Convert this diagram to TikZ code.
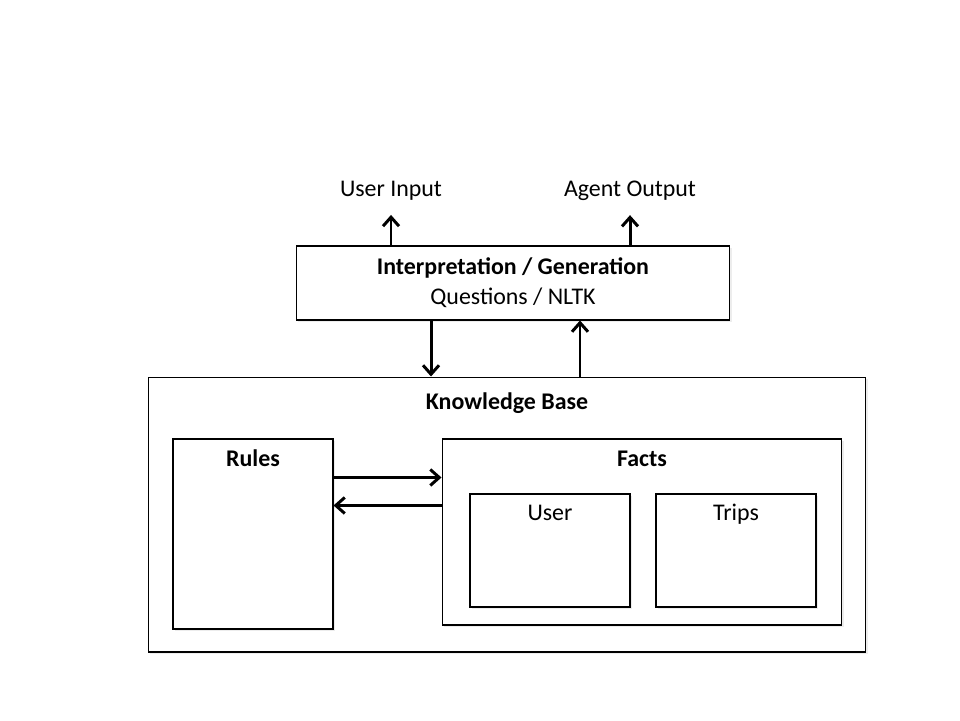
\documentclass[tikz,border=0pt]{standalone}
\usepackage{fontspec}
\setmainfont{Carlito}
\usetikzlibrary{arrows.meta,shadows,positioning}

\begin{document}
\begin{tikzpicture}[
    x=0.02cm,y=-0.02cm,
    font=\fontsize{13.6}{17}\selectfont,
    box/.style={draw=black,line width=0.6pt,fill=white,inner sep=0pt,
        drop shadow={shadow xshift=1pt,shadow yshift=-1.2pt,fill=black!14}},
    title/.style={font=\fontsize{13.6}{17}\selectfont\bfseries,inner sep=0pt},
    lab/.style={inner sep=0pt},
    arr/.style={line width=1.7pt,-{Straight Barb[length=1.8mm,width=3.2mm,line width=1.7pt]}}
]
\useasboundingbox (0,0) rectangle (960,720);

% top box
\node[box,minimum width=8.68cm,minimum height=1.48cm,align=center] (interp) at (513,283)
    {\textbf{Interpretation / Generation}\\Questions / NLTK};
\node[lab] (uin) at (391,191) {User Input};
\node[lab] (aout) at (630,191) {Agent Output};

% knowledge base
\node[box,minimum width=14.36cm,minimum height=5.5cm] (kb) at (507,514.5) {};
\node[title] (kbT) at ([yshift=-0.54cm]kb.north) {Knowledge Base};

\node[box,minimum width=3.2cm,minimum height=3.8cm] (rules) at (253,534) {};
\node[title] (rulesT) at ([yshift=-0.4cm]rules.north) {Rules};

\node[box,minimum width=8cm,minimum height=3.72cm] (facts) at (642,532) {};
\node[title] (factsT) at ([yshift=-0.4cm]facts.north) {Facts};

\node[box,minimum width=3.2cm,minimum height=2.26cm] (user) at (550,550.5) {};
\node[lab] (userT) at ([yshift=-0.38cm]user.north) {User};
\node[box,minimum width=3.2cm,minimum height=2.26cm] (trips) at (736,550.5) {};
\node[lab] (tripsT) at ([yshift=-0.42cm]trips.north) {Trips};

% connectors
\draw[arr] (interp.north -| uin) -- ([yshift=-0.28cm]uin.south);
\draw[arr] (interp.north -| aout) -- ([yshift=-0.28cm]aout.south);
\draw[arr] ([xshift=-1.64cm]interp.south) -- ([xshift=-1.64cm]interp.south |- kb.north);
\draw[arr] ([xshift=1.34cm]interp.south |- kb.north) -- ([xshift=1.34cm]interp.south);
\draw[arr] ([yshift=-0.78cm]rules.north east) -- ([yshift=-0.78cm]rules.north east -| facts.west);
\draw[arr] ([yshift=-1.34cm]rules.north east -| facts.west) -- ([yshift=-1.34cm]rules.north east);
\end{tikzpicture}
\end{document}
